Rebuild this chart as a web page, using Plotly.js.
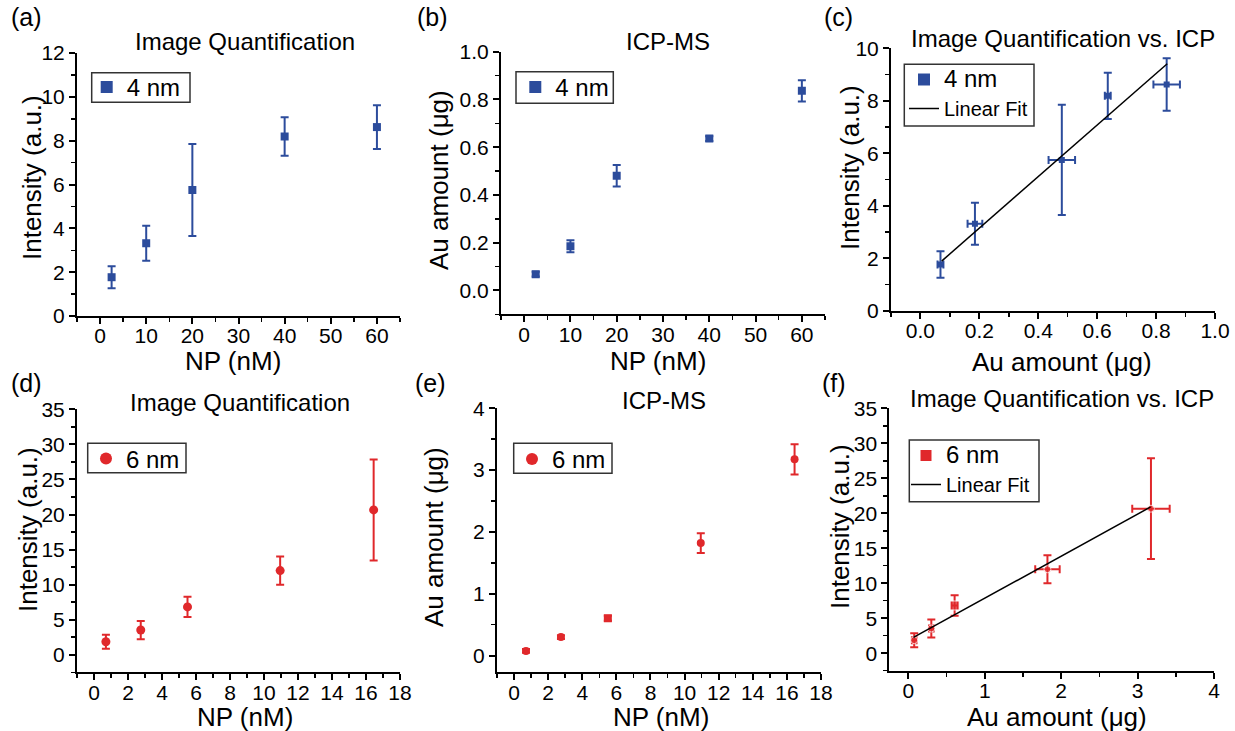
<!DOCTYPE html>
<html><head><meta charset="utf-8">
<script src="https://cdn.plot.ly/plotly-3.0.1.min.js"></script>
<style>html,body{margin:0;padding:0;background:#fff}#chart{width:1235px;height:731px}</style>
</head><body><div id="chart"></div><script>
// ---- data: 4 nm particles ----
const np4 = [2.5, 10, 20, 40, 60];
const intensity4 = [1.77, 3.32, 5.75, 8.19, 8.62];
const intensity4Err = [0.5, 0.8, 2.1, 0.88, 1.0];
const au4 = [0.068, 0.185, 0.48, 0.636, 0.836];
const au4Err = [0.01, 0.025, 0.045, 0.01, 0.045];
const fit4X = [0.072, 0.838];
const fit4Y = [1.9, 9.41];

// ---- data: 6 nm particles ----
const np6 = [0.7, 2.75, 5.5, 10.95, 16.45];
const intensity6 = [1.86, 3.53, 6.82, 12.0, 20.65];
const intensity6Err = [1.0, 1.3, 1.45, 2.0, 7.2];
const au6 = [0.076, 0.30, 0.605, 1.82, 3.175];
const au6Err = [0.03, 0.03, 0.04, 0.16, 0.245];
const fit6X = [0.066, 3.17];
const fit6Y = [2.25, 20.9];

// ---- labels ----
const panelLabels = ['(a)', '(b)', '(c)', '(d)', '(e)', '(f)'];
const panelTitles = ['Image Quantification', 'ICP-MS', 'Image Quantification vs. ICP',
                     'Image Quantification', 'ICP-MS', 'Image Quantification vs. ICP'];
const xTitles = ['NP (nM)', 'NP (nM)', 'Au amount (μg)', 'NP (nM)', 'NP (nM)', 'Au amount (μg)'];
const yTitles = ['Intensity (a.u.)', 'Au amount (μg)', 'Intensity (a.u.)',
                 'Intensity (a.u.)', 'Au amount (μg)', 'Intensity (a.u.)'];
const series4 = '4 nm', series6 = '6 nm', fitName = 'Linear Fit';

// ---- style ----
const W = 1235, H = 731;
const BLUE = '#2c4c9c', RED = '#e0282b';
const FONT = 'Liberation Sans, Arial, sans-serif';
const px = v => v / W, py = v => 1 - v / H;

const err = (arr, c) => ({type: 'data', array: arr, visible: true, color: c, thickness: 2, width: 4});
const sym6 = ['circle', 'circle', 'square', 'circle', 'circle'];
const big = s => '<span style="font-size:24px">' + s + '</span>';

const traces = [
  // (a)
  {x: np4, y: intensity4, error_y: err(intensity4Err, BLUE), mode: 'markers', name: series4,
   marker: {symbol: 'square', size: 8, color: BLUE}, xaxis: 'x', yaxis: 'y', legend: 'legend'},
  // (b)
  {x: np4, y: au4, error_y: err(au4Err, BLUE), mode: 'markers', name: series4,
   marker: {symbol: 'square', size: 8, color: BLUE}, xaxis: 'x2', yaxis: 'y2', legend: 'legend2'},
  // (c)
  {x: au4, y: intensity4, error_y: err(intensity4Err, BLUE), error_x: err(au4Err, BLUE), mode: 'markers',
   name: series4, showlegend: false,
   marker: {symbol: 'square', size: 6, color: BLUE}, xaxis: 'x3', yaxis: 'y3'},
  {x: [null], y: [null], mode: 'markers', name: big(series4),
   marker: {symbol: 'square', size: 12, color: BLUE}, xaxis: 'x3', yaxis: 'y3', legend: 'legend3'},
  {x: fit4X, y: fit4Y, mode: 'lines', name: fitName,
   line: {color: '#000', width: 1.5}, xaxis: 'x3', yaxis: 'y3', legend: 'legend3'},
  // (d)
  {x: np6, y: intensity6, error_y: err(intensity6Err, RED), mode: 'markers', name: series6,
   marker: {symbol: 'circle', size: 9, color: RED}, xaxis: 'x4', yaxis: 'y4', legend: 'legend4'},
  // (e)
  {x: np6, y: au6, error_y: err(au6Err, RED), mode: 'markers', name: series6,
   marker: {symbol: sym6, size: 8, color: RED}, xaxis: 'x5', yaxis: 'y5', legend: 'legend5'},
  // (f)
  {x: au6, y: intensity6, error_y: err(intensity6Err, RED), error_x: err(au6Err, RED), mode: 'markers',
   name: series6, showlegend: false,
   marker: {symbol: sym6, size: [7, 7, 9, 7, 7], color: RED}, xaxis: 'x6', yaxis: 'y6'},
  {x: [null], y: [null], mode: 'markers', name: big(series6),
   marker: {symbol: 'square', size: 11, color: RED}, xaxis: 'x6', yaxis: 'y6', legend: 'legend6'},
  {x: fit6X, y: fit6Y, mode: 'lines', name: fitName,
   line: {color: '#000', width: 1.5}, xaxis: 'x6', yaxis: 'y6', legend: 'legend6'}
];

// panel pixel boxes [left, right, top, bottom]
const boxes = [
  [77, 400, 53, 316], [501, 825, 51.7, 314.3], [891, 1215, 48.3, 311],
  [77, 400, 409.3, 672.3], [497, 821, 408.3, 672.3], [889.3, 1214, 408.3, 670.7]
];
const xRanges = [[-5, 65], [-5, 65], [-0.1, 1.0001], [-1, 18.0001], [-1, 18.0001], [-0.25, 4.0001]];
const yRanges = [[0, 12.0001], [-0.1, 1.0001], [0, 10.0001], [-2.5, 35.0001], [-0.27, 4.0001], [-2.5, 35.0001]];
const xDt = [[10, 5, ''], [10, 5, ''], [0.2, 0.1, '.1f'], [2, 1, ''], [2, 1, ''], [1, 0.5, '']];
const yDt = [[2, 1, ''], [0.2, 0.1, '.1f'], [2, 1, ''], [5, 2.5, ''], [1, 0.5, ''], [5, 2.5, '']];

const layout = {
  width: W, height: H, margin: {l: 0, r: 0, t: 0, b: 0},
  paper_bgcolor: '#fff', plot_bgcolor: '#fff',
  font: {family: FONT, color: '#000', size: 21},
  annotations: [], shapes: [], showlegend: true
};

function axisCommon(range, dt) {
  return {
    range: range, autorange: false, showgrid: false, zeroline: false,
    showline: true, linecolor: '#000', linewidth: 2, mirror: false,
    ticks: 'outside', ticklen: 6, tickwidth: 2, tickcolor: '#000',
    tick0: 0, dtick: dt[0], tickformat: dt[2],
    minor: {ticks: 'outside', ticklen: 4, tickwidth: 1.5, tickcolor: '#000', dtick: dt[1], tick0: 0, showgrid: false},
    tickfont: {size: 21, family: FONT, color: '#000'},
    automargin: false, fixedrange: true
  };
}

boxes.forEach((b, i) => {
  const n = i === 0 ? '' : String(i + 1);
  const xa = axisCommon(xRanges[i], xDt[i]);
  xa.domain = [px(b[0]), px(b[1])];
  xa.anchor = 'y' + n;
  xa.ticklabelstandoff = -6;
  const ya = axisCommon(yRanges[i], yDt[i]);
  ya.domain = [py(b[3]), py(b[2])];
  ya.anchor = 'x' + n;
  layout['xaxis' + n] = xa;
  layout['yaxis' + n] = ya;
});

// legend frames [left, right, top, bottom] and first-entry marker centre [x, y]
const legendBox = [[91.7, 190, 72.7, 102.3], [516, 613.3, 71.7, 103.3], [904.3, 1034, 64.3, 126],
                   [87.7, 186, 443.3, 472.7], [513.7, 612, 443.3, 473.3], [909.3, 1039, 440, 501.7]];
const legendMark = [[106.7, 88.5], [535.3, 88.3], [924, 81], [106, 460], [532, 460.3], [926, 457]];
legendBox.forEach((b, i) => {
  const key = i === 0 ? 'legend' : 'legend' + (i + 1);
  const withFit = (i === 2 || i === 5);
  const fs = withFit ? 20 : 24;
  const m = legendMark[i];
  layout[key] = {
    x: px(m[0] - 20), y: py(m[1] - (withFit ? 21 : 23.5)), xanchor: 'left', yanchor: 'top',
    bgcolor: 'rgba(0,0,0,0)', borderwidth: 0,
    font: {size: fs, family: FONT, color: '#000'},
    itemsizing: withFit ? 'trace' : 'constant',
    tracegroupgap: 0
  };
  layout.shapes.push({type: 'rect', xref: 'paper', yref: 'paper', layer: 'above',
    x0: px(b[0]), x1: px(b[1]), y0: py(b[3]), y1: py(b[2]),
    line: {color: '#333', width: 1.5}, fillcolor: 'rgba(0,0,0,0)'});
});

function addText(text, x, y, size, angle) {
  layout.annotations.push({text: text, xref: 'paper', yref: 'paper', x: px(x), y: py(y),
    xanchor: 'center', yanchor: 'middle', showarrow: false, textangle: angle || 0, borderpad: 0,
    font: {size: size, family: FONT, color: '#000'}});
}

// subplot titles, panel letters, axis titles
const titlePos = [[245, 42], [668, 42], [1063, 38], [240, 402], [664, 400], [1062, 399]];
const labelPos = [[26, 17], [432, 17], [838, 17], [26, 383], [430, 383], [834, 383]];
const xTitlePos = [[233, 361], [658, 361], [1062, 362], [245, 716.5], [661, 716.5], [1057, 716.5]];
const yTitlePos = [[32, 178], [439, 180], [850, 167], [28, 530], [434, 537], [840, 527]];
panelTitles.forEach((t, i) => addText(t, titlePos[i][0], titlePos[i][1], 24));
panelLabels.forEach((t, i) => addText(t, labelPos[i][0], labelPos[i][1], 25));
xTitles.forEach((t, i) => addText(t, xTitlePos[i][0], xTitlePos[i][1], 26));
yTitles.forEach((t, i) => addText(t, yTitlePos[i][0], yTitlePos[i][1], 26, -90));

Plotly.newPlot('chart', traces, layout, {displayModeBar: false, staticPlot: true});
</script></body></html>
